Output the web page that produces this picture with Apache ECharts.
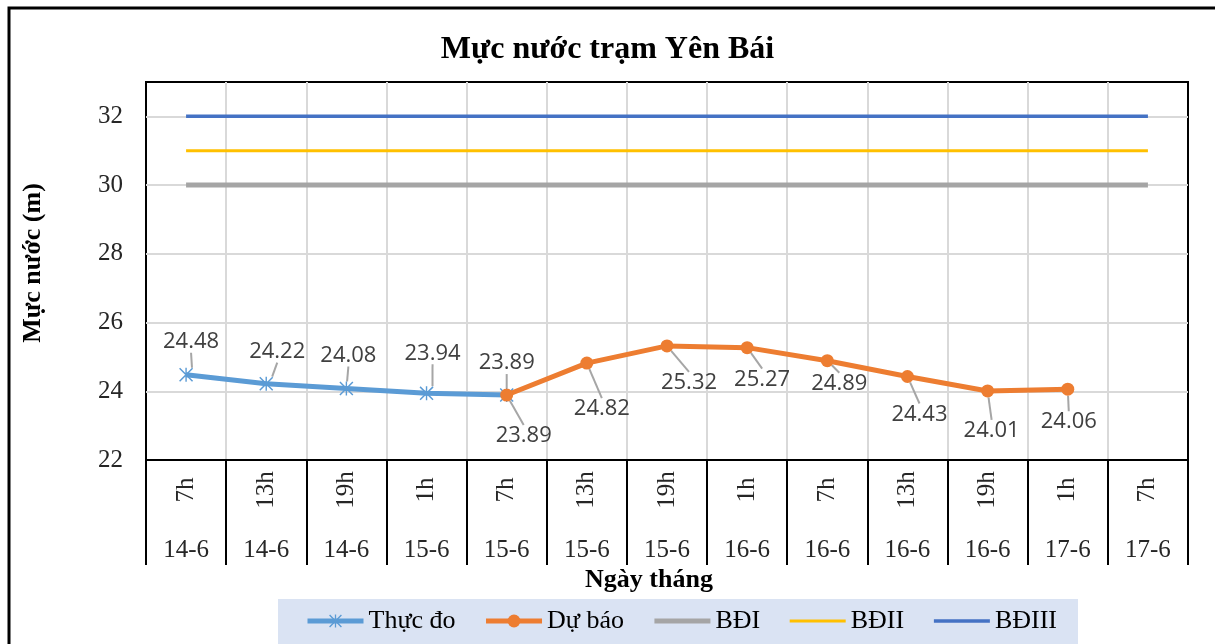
<!DOCTYPE html>
<html>
<head>
<meta charset="utf-8">
<script src="https://cdn.jsdelivr.net/npm/echarts@6/dist/echarts.min.js"></script>
<style>
html,body{margin:0;padding:0;background:#fff;}
#chart{width:1215px;height:644px;}
</style>
</head>
<body>
<div id="chart"></div>
<script>
// du lieu
const hours = ['7h', '13h', '19h', '1h', '7h', '13h', '19h', '1h', '7h', '13h', '19h', '1h', '7h'];
const days = ['14-6', '14-6', '14-6', '15-6', '15-6', '15-6', '15-6', '16-6', '16-6', '16-6', '16-6', '17-6', '17-6'];
const thucDo = [24.48, 24.22, 24.08, 23.94, 23.89, '-', '-', '-', '-', '-', '-', '-', '-'];
const duBao = ['-', '-', '-', '-', 23.89, 24.82, 25.32, 25.27, 24.89, 24.43, 24.01, 24.06, '-'];
const bdI = [30, 30, 30, 30, 30, 30, 30, 30, 30, 30, 30, 30, 30];
const bdII = [31, 31, 31, 31, 31, 31, 31, 31, 31, 31, 31, 31, 31];
const bdIII = [32, 32, 32, 32, 32, 32, 32, 32, 32, 32, 32, 32, 32];
const yTicks = { min: 22, max: 33, step: 2 };

const serif = 'Liberation Serif';
const cats = hours.map((h, i) => h + '|' + i);

// vi tri nhan (dx, dy) so voi diem
const shiftThucDo = [[5, -33], [11, -32], [2, -33], [6, -40], [0, -32]];
const shiftDuBao = { 4: [17, 41], 5: [15, 46], 6: [22, 37], 7: [15, 32], 8: [12, 23], 9: [12, 38], 10: [4, 40], 11: [1, 33] };

const chart = echarts.init(document.getElementById('chart'));

const dataLabel = {
    show: true,
    position: 'inside',
    align: 'center',
    verticalAlign: 'middle',
    fontFamily: 'Open Sans',
    fontSize: 22,
    color: '#404040'
};

const option = {
    animation: false,
    title: {
        text: 'Mực nước trạm Yên Bái',
        left: 'center',
        top: 29,
        textStyle: { fontFamily: serif, fontWeight: 'bold', fontSize: 32, color: '#000' }
    },
    graphic: [
        { type: 'rect', z: 0, shape: { x: 9, y: 8, width: 1230, height: 700 }, style: { fill: 'none', stroke: '#000', lineWidth: 3 } },
        { type: 'rect', z: 0, shape: { x: 278, y: 599, width: 800, height: 60 }, style: { fill: '#dae3f3' } }
    ],
    legend: {
        z: 10,
        left: 305,
        top: 608,
        padding: 0,
        itemWidth: 56,
        itemHeight: 16,
        itemGap: 28,
        lineStyle: { width: 'inherit' },
        textStyle: { fontFamily: serif, fontSize: 26, color: '#000' },
        data: [
            'Thực đo',
            'Dự báo',
            { name: 'BĐI', itemStyle: { opacity: 0 } },
            { name: 'BĐII', itemStyle: { opacity: 0 } },
            { name: 'BĐIII', itemStyle: { opacity: 0 } }
        ]
    },
    grid: {
        left: 146,
        right: 27,
        top: 82,
        bottom: 184,
        show: true,
        borderColor: '#000',
        borderWidth: 2
    },
    xAxis: [
        {
            type: 'category',
            data: cats,
            position: 'bottom',
            axisLine: { lineStyle: { color: '#000', width: 2 } },
            axisTick: { show: true, interval: 0, length: 105, lineStyle: { color: '#000', width: 2 } },
            axisLabel: {
                interval: 0,
                rotate: 90,
                align: 'center',
                verticalAlign: 'middle',
                margin: 30,
                fontFamily: serif,
                fontSize: 25,
                color: '#262626',
                formatter: (v) => v.split('|')[0]
            },
            splitLine: { show: true, interval: 0, showMinLine: false, showMaxLine: false, lineStyle: { color: '#d9d9d9', width: 2 } },
            name: 'Ngày tháng',
            nameLocation: 'middle',
            nameGap: 107,
            nameTextStyle: { fontFamily: serif, fontWeight: 'bold', fontSize: 26, color: '#000', padding: [0, 36, 0, 0] }
        },
        {
            type: 'category',
            data: days,
            position: 'bottom',
            axisLine: { show: false },
            axisTick: { show: false },
            axisLabel: {
                interval: 0,
                verticalAlign: 'middle',
                margin: 90,
                fontFamily: serif,
                fontSize: 25,
                color: '#262626'
            }
        }
    ],
    yAxis: {
        type: 'value',
        min: yTicks.min,
        max: yTicks.max,
        interval: yTicks.step,
        axisLine: { show: false },
        axisTick: { show: false },
        axisLabel: { margin: 23, showMaxLabel: false, fontFamily: serif, fontSize: 25, color: '#262626' },
        splitLine: { showMinLine: false, showMaxLine: false, lineStyle: { color: '#d9d9d9', width: 2 } },
        name: 'Mực nước (m)',
        nameLocation: 'middle',
        nameRotate: 90,
        nameGap: 100,
        nameTextStyle: { fontFamily: serif, fontWeight: 'bold', fontSize: 26, color: '#000', padding: [0, 0, 0, 16] }
    },
    series: [
        {
            name: 'BĐI',
            type: 'line',
            data: bdI,
            symbol: 'none',
            lineStyle: { color: '#a5a5a5', width: 5 },
            itemStyle: { color: '#a5a5a5' },
            z: 2
        },
        {
            name: 'BĐII',
            type: 'line',
            data: bdII,
            symbol: 'none',
            lineStyle: { color: '#ffc000', width: 3 },
            itemStyle: { color: '#ffc000' },
            z: 2
        },
        {
            name: 'BĐIII',
            type: 'line',
            data: bdIII,
            symbol: 'none',
            lineStyle: { color: '#4472c4', width: 3.5 },
            itemStyle: { color: '#4472c4' },
            z: 2
        },
        {
            name: 'Thực đo',
            type: 'line',
            data: thucDo,
            symbol: 'path://M9,0h2v20h-2z M0,1.5L1.5,0L20,18.5L18.5,20z M18.5,0L20,1.5L1.5,20L0,18.5z',
            symbolSize: 14,
            lineStyle: { color: '#5b9bd5', width: 5 },
            itemStyle: { color: '#5b9bd5' },
            label: dataLabel,
            labelLine: { show: true, lineStyle: { color: '#a6a6a6', width: 2 } },
            labelLayout: (p) => {
                const s = shiftThucDo[p.dataIndex] || [0, -30];
                return { dx: s[0], dy: s[1] };
            },
            z: 3
        },
        {
            name: 'Dự báo',
            type: 'line',
            data: duBao,
            symbol: 'circle',
            symbolSize: 13,
            lineStyle: { color: '#ed7d31', width: 5 },
            itemStyle: { color: '#ed7d31' },
            label: dataLabel,
            labelLine: { show: true, lineStyle: { color: '#a6a6a6', width: 2 } },
            labelLayout: (p) => {
                const s = shiftDuBao[p.dataIndex] || [0, 30];
                return { dx: s[0], dy: s[1] };
            },
            z: 4
        }
    ]
};

chart.setOption(option);
</script>
</body>
</html>
